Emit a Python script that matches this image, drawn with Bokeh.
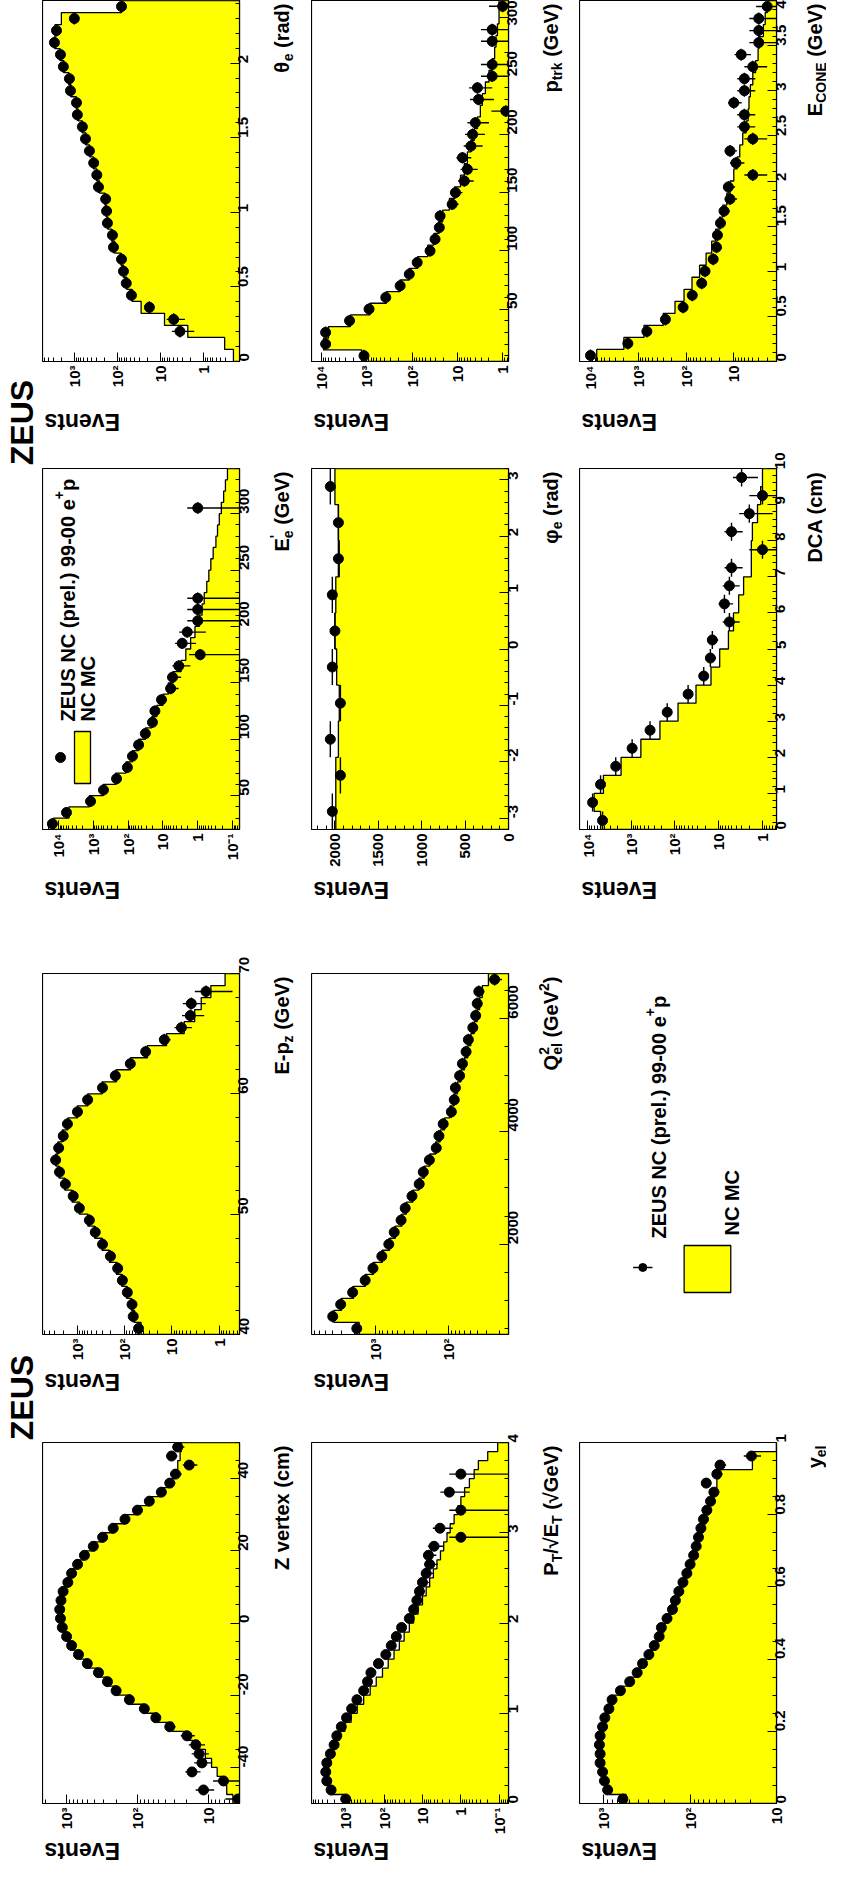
import math
import numpy as np
from bokeh.plotting import figure
from bokeh.layouts import row, column
from bokeh.models import Range1d, FixedTicker, Label
from bokeh.embed import file_html
from bokeh.resources import INLINE

FONT = "Liberation Sans"
YELLOW = "#ffff00"

# ---------------- data ----------------
# theta_e (rad)
theta_xr = [0.0, 2.42]
theta_vr = [-0.84, 3.74]          # log10 of value-axis range
theta_ticks = [0, 0.5, 1, 1.5, 2]
theta_data = [0, 0, 3.5, 4.9, 18, 47, 62, 72, 80, 123, 130, 170, 178, 187, 275, 300,
              355, 445, 550, 650, 850, 890, 1230, 1300, 1800, 2100, 2900, 2600, 1000, 80]
theta_mc = [0.2, 0.32, 2.3, 8, 28, 45, 60, 72, 82, 115, 135, 165, 180, 195, 260, 300,
            360, 440, 540, 660, 820, 900, 1200, 1350, 1750, 2150, 2800, 2800, 2000, 80]

# p_trk (GeV)
ptrk_xr = [5.0, 315.0]
ptrk_vr = [-0.13, 4.22]
ptrk_ticks = [50, 100, 150, 200, 250, 300]
ptrk_data = [1150, 8100, 8100, 2400, 890, 380, 183, 115, 77, 40, 31, 25, 24, 13, 11, 7,
             6, 7.7, 5, 4.6, 4, 0.85, 3.4, 3.6, 1.7, 1.7, 0, 1.7, 1.7, 0, 1]
ptrk_mc = [1300, 9000, 7000, 2300, 850, 370, 185, 115, 75, 45, 33, 26, 21, 15, 11.5, 8.5,
           7, 6, 5, 4.2, 3.6, 3.1, 2.8, 2.4, 2.0, 1.7, 1.5, 1.4, 1.3, 1.2, 1.2]

# E_CONE (GeV)
econe_xr = [0.0, 4.0]
econe_vr = [0.106, 4.23]
econe_ticks = [0, 0.5, 1, 1.5, 2, 2.5, 3, 3.5, 4]
econe_data = [10000, 1650, 660, 270, 115, 74, 47, 40, 27, 23, 22, 19, 16, 12, 13, 4,
              9, 12, 4, 6, 6, 10, 6, 6, 4, 7, 3, 3, 3, 2]
econe_mc = [7400, 2000, 760, 300, 170, 110, 75, 52, 38, 29, 24, 20, 17, 14, 12, 10,
            8.5, 7.5, 6.5, 5.5, 5, 4.8, 4.5, 4, 3.5, 3.1, 3, 2.4, 2.2, 2.0]

# E'_e (GeV)
ee_xr = [20.0, 340.0]
ee_vr = [-1.2, 4.46]
ee_ticks = [50, 100, 150, 200, 250, 300]
ee_data = [15000, 5900, 1200, 510, 215, 105, 75, 50, 32, 20, 17, 11, 6, 5.3, 3.5, 0.85,
           2.8, 2.0, 1, 1, 1, 0, 0, 0, 0, 0, 0, 0, 1, 0, 0, 0]
ee_mc = [14000, 5000, 1300, 520, 230, 115, 75, 50, 32, 21, 15, 10, 7, 5, 3.0, 2.2,
         1.6, 1.2, 0.9, 0.75, 0.65, 0.55, 0.48, 0.42, 0.36, 0.3, 0.27, 0.24, 0.21, 0.18, 0.16, 0.14]

# phi_e (rad), linear value axis
phi_xr = [-3.2, 3.2]
phi_vr = [0, 2270]
phi_ticks = [-3, -2, -1, 0, 1, 2, 3]
phi_vticks = [0, 500, 1000, 1500, 2000]
phi_data = [2030, 1937, 2053, 1937, 2030, 2000, 2030, 1960, 1960, 2053]
phi_mc = [1990, 1990, 1960, 1950, 1980, 2000, 1990, 1950, 1960, 2000]

# DCA (cm)
dca_xr = [0.0, 10.0]
dca_vr = [-0.32, 4.18]
dca_ticks = [0, 1, 2, 3, 4, 5, 6, 7, 8, 9, 10]
dca_data = [4500, 7600, 5000, 2250, 950, 370, 150, 50, 22, 15.5, 14, 5.7, 7.4, 5.7, 5.1,
            1, 5.1, 2, 1, 3]
dca_mc = [5000, 7000, 4300, 1700, 600, 220, 85, 33, 15, 9.5, 6, 4.6, 3.5, 2.7, 1.8,
          1.8, 1.7, 1.3, 1.1, 1.0]

# E-p_z (GeV)
epz_xr = [40.0, 70.0]
epz_vr = [-0.43, 3.74]
epz_ticks = [40, 50, 60, 70]
epz_data = [51, 66, 70, 88, 112, 141, 200, 295, 420, 560, 910, 1230, 1800, 2400, 2900,
            2500, 2000, 1630, 1000, 610, 295, 158, 76, 36, 14.5, 6.3, 4.1, 3.9, 1.9, 0]
epz_mc = [45, 62, 72, 90, 115, 150, 210, 300, 430, 600, 900, 1300, 1850, 2450, 2850,
          2600, 2100, 1600, 1000, 600, 300, 150, 75, 33, 13, 5.5, 3.3, 2.4, 1.5, 0.75]

# Q^2_el (GeV^2)
q2_xr = [400.0, 6800.0]
q2_vr = [1.17, 3.89]
q2_ticks = [2000, 4000, 6000]
q2_data = [1840, 3950, 3070, 2100, 1410, 1100, 830, 665, 560, 450, 395, 318, 253, 222, 183,
           147, 135, 118, 91, 83, 80, 70, 64, 57, 53, 46, 42, 40, 38, 23]
q2_mc = [1700, 3800, 3000, 2050, 1400, 1080, 820, 650, 540, 440, 380, 310, 255, 215, 180,
         150, 130, 113, 95, 84, 75, 67, 60, 54, 49, 44, 40, 37, 34, 28]

# Z vertex (cm)
zv_xr = [-50.0, 50.0]
zv_vr = [0.56, 3.34]
zv_ticks = [-40, -20, 0, 20, 40]
zv_data = [3.8, 11.7, 6.1, 17, 12.3, 13.5, 15, 20, 35, 55, 80, 130, 200, 265, 355, 510,
           680, 850, 1000, 1150, 1220, 1250, 1200, 1120, 960, 850, 700, 560, 420, 310,
           220, 150, 100, 68, 46, 35, 29, 18.6, 33, 27]
zv_mc = [4.5, 5.5, 6.5, 7.5, 9, 11, 14, 20, 32, 52, 80, 125, 195, 270, 360, 500,
         660, 830, 990, 1120, 1200, 1230, 1190, 1100, 970, 840, 690, 550, 410, 300,
         215, 150, 100, 68, 47, 36, 30, 27, 25, 24]

# P_T / sqrt(E_T) (sqrt GeV)
pt_xr = [0.0, 4.0]
pt_vr = [-1.24, 3.89]
pt_ticks = [0, 1, 2, 3, 4]
pt_data = [1000, 2400, 3100, 3300, 3100, 2500, 2000, 1700, 1300, 950, 700, 510, 340, 270,
           220, 140, 90, 65, 48, 35, 22, 17, 14, 12, 10, 8, 6.5, 7, 5, 1, 3.5, 0, 1, 0,
           2, 0, 1, 0, 0, 0]
pt_mc = [1100, 2500, 3100, 3200, 2900, 2400, 1900, 1450, 1050, 720, 500, 340, 230, 160,
         110, 78, 55, 40, 30, 22, 17, 13, 10, 8, 6.5, 5.2, 4.2, 3.4, 2.8, 2.3, 1.9, 1.5,
         1.2, 1.0, 0.8, 0.6, 0.45, 0.35, 0.2, 0.11]

# y_el
yel_xr = [0.0, 1.0]
yel_vr = [1.0, 3.28]
yel_ticks = [0, 0.2, 0.4, 0.6, 0.8, 1]
yel_data = [600, 900, 980, 1030, 1100, 1100, 1120, 1100, 1030, 970, 870, 800, 640, 500,
            410, 355, 300, 260, 228, 215, 185, 160, 148, 135, 121, 109, 100, 91, 85, 80,
            75, 70, 64, 58, 53, 65, 49, 45, 19.5, 0]
yel_mc = [550, 850, 950, 1000, 1060, 1080, 1090, 1070, 1000, 940, 850, 760, 620, 490,
          400, 340, 290, 250, 220, 200, 178, 158, 143, 130, 118, 107, 98, 90, 83, 77,
          71, 66, 61, 56, 52, 49, 46, 19, 19, 0]

events_label = "Events"
legend_data_label = "ZEUS NC (prel.) 99-00 e"
legend_mc_label = "NC MC"

# ---------------- helpers ----------------
FW, FH = 197, 361
TICK_FS = "15px"
SUPS = {-1: "10\u207b\u00b9", 0: "1", 1: "10", 2: "10\u00b2", 3: "10\u00b3", 4: "10\u2074"}
WID = {' ': 278, '(': 333, ')': 333, '+': 584, '-': 333, '.': 278, '/': 278, "'": 238,
       '\u2032': 278, '\u221a': 549, '\u03b8': 611, '\u03c6': 720}
for ch in "0123456789":
    WID[ch] = 556
WID.update({'A': 722, 'C': 722, 'D': 722, 'E': 667, 'G': 778, 'M': 833, 'N': 722, 'O': 778,
            'P': 667, 'Q': 778, 'S': 667, 'T': 611, 'U': 722, 'V': 667, 'Z': 611,
            'a': 556, 'c': 556, 'd': 611, 'e': 556, 'k': 556, 'l': 278, 'm': 889, 'p': 611,
            'r': 389, 't': 333, 'v': 556, 'x': 556, 'y': 556, 'z': 500})


def twidth(s, size):
    return sum(WID.get(c, 556) for c in s) * size / 1000.0


def add_text(p, x, y, t, size, angle, align, baseline):
    p.add_layout(Label(x=x, y=y, x_units="screen", y_units="screen", text=t,
                       angle=angle, angle_units="rad", text_font=FONT,
                       text_font_style="bold", text_font_size=f"{size}px",
                       text_align=align, text_baseline=baseline, text_color="black"))


def rich(p, pieces, x, y_start, fs):
    """Rotated (reading upward) text made of pieces, inside a frame."""
    pos = y_start
    base = x + 0.36 * fs
    for txt, size, shift, adv in pieces:
        lead = len(txt) - len(txt.lstrip(' '))
        pos += lead * 278 * size / 1000.0
        t = txt.strip(' ')
        off = {0: 0.0, "sub": 0.28 * fs, "sup": -0.42 * fs}[shift]
        add_text(p, base + off, pos, t, size, math.pi / 2, "left", "alphabetic")
        if adv:
            pos += twidth(t, size)


def rich_centered(p, pieces, x, y_end, fs):
    """Rotated (reading upward) text of pieces ending at y_end; every piece is centred."""
    total = sum(twidth(t, s) for t, s, sh, adv in pieces if adv)
    pos = y_end - total
    for txt, size, shift, adv in pieces:
        lead = len(txt) - len(txt.lstrip(' '))
        pos += lead * 278 * size / 1000.0
        t = txt.strip(' ')
        wdt = twidth(t, size)
        off = {0: 0.0, "sub": 0.30 * fs, "sup": -0.33 * fs}[shift]
        add_text(p, x + off, pos + wdt / 2, t, size, math.pi / 2, "center", "middle")
        if adv:
            pos += wdt


def lin_grid(lo, hi, step):
    k0 = math.ceil(lo / step - 1e-9)
    k1 = math.floor(hi / step + 1e-9)
    return [round(k * step, 6) for k in range(k0, k1 + 1)]


def log_grid(a, b):
    majors = [10.0 ** k for k in range(math.ceil(a), math.floor(b) + 1)]
    minors = []
    for k in range(math.floor(a), math.ceil(b) + 1):
        for m in range(2, 10):
            v = m * 10.0 ** k
            if a <= math.log10(v) <= b:
                minors.append(v)
    return majors, minors


def style_axis(ax, standoff):
    ax.axis_line_color = "black"
    ax.axis_line_width = 1.2
    ax.major_tick_line_color = "black"
    ax.minor_tick_line_color = "black"
    ax.major_tick_in = 9
    ax.major_tick_out = 0
    ax.minor_tick_in = 4
    ax.minor_tick_out = 0
    ax.major_label_text_font = FONT
    ax.major_label_text_font_style = "bold"
    ax.major_label_text_font_size = TICK_FS
    ax.major_label_text_color = "black"
    ax.major_label_orientation = math.pi / 2
    ax.major_label_standoff = standoff


def text_fig(w, h):
    f = figure(width=w, height=h, x_range=Range1d(0, w), y_range=Range1d(0, h),
               x_axis_location=None, y_axis_location=None, toolbar_location=None,
               output_backend="svg", min_border=0)
    f.grid.visible = False
    f.outline_line_color = None
    f.background_fill_color = "white"
    f.border_fill_color = "white"
    return f


def panel(spec, rb, bt, bb):
    lo, hi = spec["xr"]
    data = np.array(spec["data"], float)
    mc = np.array(spec["mc"], float)
    n = len(data)
    edges = np.linspace(lo, hi, n + 1)
    centers = 0.5 * (edges[:-1] + edges[1:])
    w = (hi - lo) / n
    if spec["log"]:
        a, b = spec["vr"]
        vmin, vmax = 10.0 ** a, 10.0 ** b
        xtype = "log"
        majors, minors = log_grid(a, b)
        over = {10.0 ** k: SUPS[k] for k in range(math.ceil(a), math.floor(b) + 1)}
    else:
        vmin, vmax = spec["vr"]
        xtype = "linear"
        majors = [float(t) for t in spec["vticks"]]
        minors = lin_grid(vmin, vmax, 100)
        over = {float(t): f"{t:g}" for t in spec["vticks"]}
    p = figure(frame_width=FW, frame_height=FH, x_axis_type=xtype,
               x_range=Range1d(vmax, vmin), y_range=Range1d(lo, hi),
               x_axis_location="below", y_axis_location="right", toolbar_location=None,
               output_backend="svg", min_border_left=0, min_border_right=rb,
               min_border_top=bt, min_border_bottom=bb)
    p.grid.visible = False
    p.outline_line_color = "black"
    p.outline_line_width = 1.2
    p.background_fill_color = "white"
    p.border_fill_color = "white"
    # MC histogram: filled + step outline
    m = np.maximum(mc, vmin)
    xs = [vmin]
    ys = [lo]
    for i in range(n):
        xs += [m[i], m[i]]
        ys += [edges[i], edges[i + 1]]
    xs += [vmin]
    ys += [hi]
    p.patch(xs, ys, fill_color=YELLOW, line_color=None)
    p.line(xs, ys, line_color="black", line_width=1.3)
    # data points with errors
    ok = data > 0
    d = data[ok]
    c = centers[ok]
    e = np.sqrt(d)
    lo_e = np.where(d - e > vmin, d - e, vmin)
    p.segment(x0=lo_e, y0=c, x1=d + e, y1=c, line_color="black", line_width=1.4)
    p.segment(x0=d, y0=c - w / 2, x1=d, y1=c + w / 2, line_color="black", line_width=1.4)
    p.scatter(x=d, y=c, size=10, marker="circle", fill_color="black", line_color="black")
    # axes
    xa = p.xaxis[0]
    style_axis(xa, 4)
    xa.ticker = FixedTicker(ticks=majors, minor_ticks=minors)
    xa.major_label_overrides = over
    ya = p.yaxis[0]
    style_axis(ya, 4)
    ya.ticker = FixedTicker(ticks=[float(t) for t in spec["ticks"]],
                            minor_ticks=lin_grid(lo, hi, spec["minor"]))
    ya.major_label_overrides = {float(t): f"{t:g}" for t in spec["ticks"]}
    p._frac = (vmin, vmax, lo, hi, spec["log"])
    return p


def frac_to_data(p, fx, fy):
    vmin, vmax, lo, hi, lg = p._frac
    if lg:
        lv = math.log10(vmax) + fx * (math.log10(vmin) - math.log10(vmax))
        xv = 10.0 ** lv
    else:
        xv = vmax + fx * (vmin - vmax)
    return xv, lo + fy * (hi - lo)


M, S = 20, 14
specs = {
    "theta": dict(xr=theta_xr, vr=theta_vr, log=True, data=theta_data, mc=theta_mc,
                  ticks=theta_ticks, minor=0.1,
                  title=[("\u03b8", M, 0, True), ("e", S, "sub", True), (" (rad)", M, 0, True)]),
    "ptrk": dict(xr=ptrk_xr, vr=ptrk_vr, log=True, data=ptrk_data, mc=ptrk_mc,
                 ticks=ptrk_ticks, minor=10,
                 title=[("p", M, 0, True), ("trk", S, "sub", True), (" (GeV)", M, 0, True)]),
    "econe": dict(xr=econe_xr, vr=econe_vr, log=True, data=econe_data, mc=econe_mc,
                  ticks=econe_ticks, minor=0.1,
                  title=[("E", M, 0, True), ("CONE", S, "sub", True), (" (GeV)", M, 0, True)]),
    "ee": dict(xr=ee_xr, vr=ee_vr, log=True, data=ee_data, mc=ee_mc, ticks=ee_ticks, minor=10,
               title=[("E", M, 0, True), ("'", S, "sup", False), ("e", S, "sub", True),
                      (" (GeV)", M, 0, True)]),
    "phi": dict(xr=phi_xr, vr=phi_vr, log=False, vticks=phi_vticks, data=phi_data, mc=phi_mc,
                ticks=phi_ticks, minor=0.2,
                title=[("\u03c6", M, 0, True), ("e", S, "sub", True), (" (rad)", M, 0, True)]),
    "dca": dict(xr=dca_xr, vr=dca_vr, log=True, data=dca_data, mc=dca_mc, ticks=dca_ticks,
                minor=0.2, title=[("DCA (cm)", M, 0, True)]),
    "epz": dict(xr=epz_xr, vr=epz_vr, log=True, data=epz_data, mc=epz_mc, ticks=epz_ticks,
                minor=2,
                title=[("E-p", M, 0, True), ("z", S, "sub", True), (" (GeV)", M, 0, True)]),
    "q2": dict(xr=q2_xr, vr=q2_vr, log=True, data=q2_data, mc=q2_mc, ticks=q2_ticks, minor=500,
               title=[("Q", M, 0, True), ("2", S, "sup", False), ("el", S, "sub", True),
                      (" (GeV", M, 0, True), ("2", S, "sup", True), (")", M, 0, True)]),
    "zv": dict(xr=zv_xr, vr=zv_vr, log=True, data=zv_data, mc=zv_mc, ticks=zv_ticks, minor=5,
               title=[("Z vertex (cm)", M, 0, True)]),
    "pt": dict(xr=pt_xr, vr=pt_vr, log=True, data=pt_data, mc=pt_mc, ticks=pt_ticks, minor=0.2,
               title=[("P", M, 0, True), ("T", S, "sub", True), ("/\u221aE", M, 0, True),
                      ("T", S, "sub", True), (" (\u221aGeV)", M, 0, True)]),
    "yel": dict(xr=yel_xr, vr=yel_vr, log=True, data=yel_data, mc=yel_mc, ticks=yel_ticks,
                minor=0.05, title=[("y", M, 0, True), ("el", S, "sub", True)]),
}

# page geometry
RB = 27                              # room for the rotated tick labels at the right
PW = FW + RB                         # panel canvas width
COLW = [269, 268, 247]               # column widths (panel + title strip)
TITLE_X = [15, 15, 11]               # title centre line inside its strip
ROWT = [0, 16, 32, 14]               # space above each frame
ROWB = [40, 40, 35, 35]              # room for value-axis tick labels under each frame
EVH = [51, 72, 59, 27]               # height of the "Events" strip under each row
EVOFF = [60, 60, 47, 47]             # "Events" centre below the frame
TOTAL_H = sum(ROWT) + 4 * FH + sum(ROWB) + sum(EVH)

grid = [["theta", "ptrk", "econe"], ["ee", "phi", "dca"], ["epz", "q2", None], ["zv", "pt", "yel"]]

# frame tops measured from the top of the page content
frame_top = []
acc = 0
for ri in range(4):
    frame_top.append(acc + ROWT[ri])
    acc += ROWT[ri] + FH + ROWB[ri] + EVH[ri]

columns = []
for ci in range(3):
    cells = []
    tstrip = text_fig(COLW[ci] - PW, TOTAL_H)        # tall strip holding this column's titles
    for ri in range(4):
        name = grid[ri][ci]
        ph = ROWT[ri] + FH + ROWB[ri]
        ef = text_fig(PW, EVH[ri])
        if name is None:
            f = text_fig(PW, ph)
            fb = ROWB[ri]
            f.scatter(x=[72], y=[fb + 67], size=8, marker="circle", color="black")
            f.segment(x0=[61], y0=[fb + 67], x1=[83], y1=[fb + 67], line_color="black",
                      line_width=1.3)
            f.quad(left=[119], right=[172], bottom=[fb + 42], top=[fb + 89],
                   fill_color=YELLOW, line_color="black", line_width=1.3)
            rich(f, [(legend_data_label, M, 0, True), ("+", S, "sup", True), ("p", M, 0, True)],
                 72, fb + 96, M)
            rich(f, [(legend_mc_label, M, 0, True)], 145, fb + 99, M)
            cells += [f, ef]
            continue
        spec = specs[name]
        p = panel(spec, RB, ROWT[ri], ROWB[ri])
        add_text(ef, 2, EVH[ri] - (EVOFF[ri] - ROWB[ri]), events_label, 23, math.pi,
                 "right", "middle")
        rich_centered(tstrip, spec["title"], TITLE_X[ci], TOTAL_H - frame_top[ri] - 3, M)
        if name == "ee":
            mx, my = frac_to_data(p, 18 / FW, 72 / FH)
            p.scatter(x=[mx], y=[my], size=10, marker="circle", color="black")
            x0, y0 = frac_to_data(p, 32 / FW, 46 / FH)
            x1, y1 = frac_to_data(p, 48 / FW, 98 / FH)
            p.quad(left=[x0], right=[x1], bottom=[y0], top=[y1], fill_color=YELLOW,
                   line_color="black", line_width=1.3)
            rich(p, [(legend_data_label, M, 0, True), ("+", S, "sup", True),
                     ("p", M, 0, True)], 18, 108, M)
            rich(p, [(legend_mc_label, M, 0, True)], 38, 108, M)
        cells += [p, ef]
    columns.append(column(*cells))
    columns.append(tstrip)

# left strip with the ZEUS labels
strip = text_fig(42, TOTAL_H)
for yc in [TOTAL_H - (430 - 8), TOTAL_H - (1405 - 8)]:
    add_text(strip, 21, yc, "ZEUS", 32, math.pi / 2, "center", "middle")

layout = row(strip, *columns)
open("out.html", "w").write(file_html(layout, INLINE))
